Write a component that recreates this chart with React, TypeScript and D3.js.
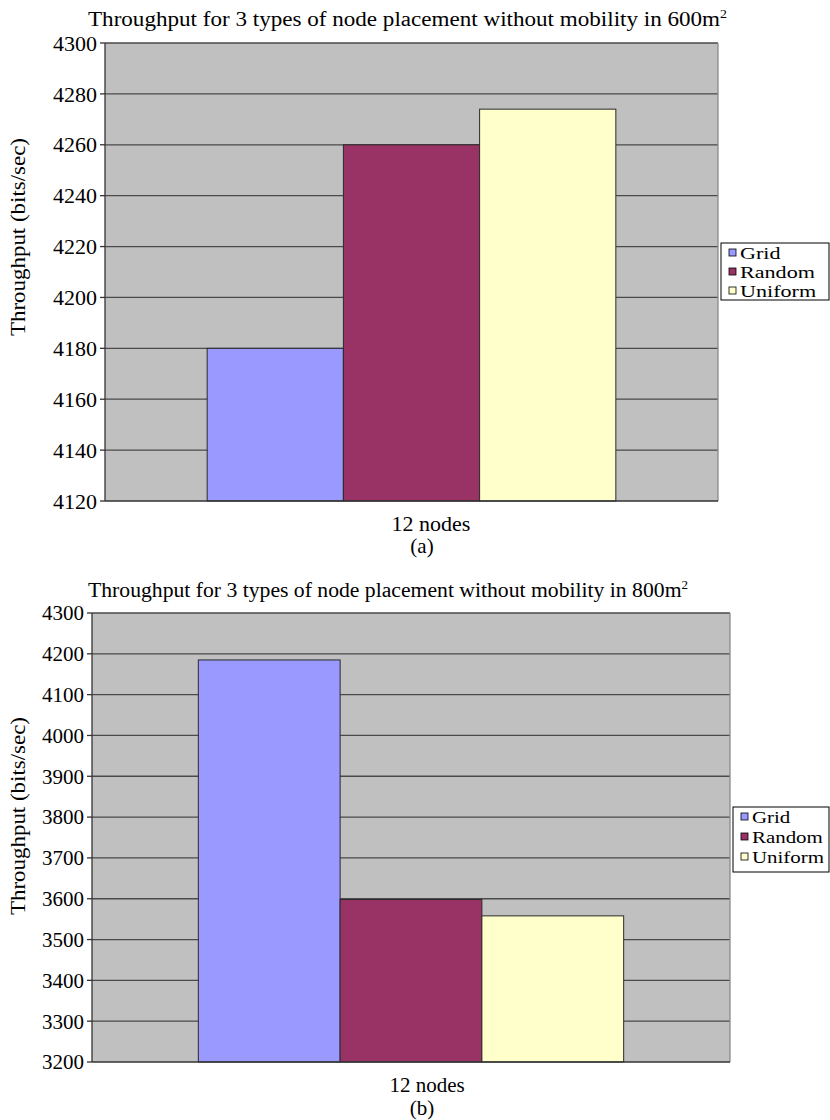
import React from "react";
import * as d3 from "d3";

// Placement types shown in both panels
const placements = ["Grid", "Random", "Uniform"];
const placementColors = ["#9999FF", "#993366", "#FFFFCC"];

// Panel (a): 600 m² area
const throughput600 = [4180, 4260, 4274];
const ticks600 = [4120, 4140, 4160, 4180, 4200, 4220, 4240, 4260, 4280, 4300];

// Panel (b): 800 m² area
const throughput800 = [4185, 3598, 3558];
const ticks800 = [3200, 3300, 3400, 3500, 3600, 3700, 3800, 3900, 4000, 4100, 4200, 4300];

const categoryLabel = "12 nodes";
const yTitle = "Throughput (bits/sec)";

const FONT = "Liberation Serif, DejaVu Serif, serif";
// em widths of the legend labels in a Times-metric face
const legendEm = [1.833, 3.389, 3.444];

type PanelProps = {
  title: string;
  titleX: number;
  titleY: number;
  titleWidth: number;
  values: number[];
  ticks: number[];
  left: number;
  right: number;
  top: number;
  bottom: number;
  yTitleX: number;
  yTitleCenter: number;
  tickFont: number;
  xLabelX: number;
  xLabelY: number;
  xLabelFont: number;
  caption: string;
  captionX: number;
  captionY: number;
  legendX: number;
  legendY: number;
  legendW: number;
  legendH: number;
  legendEmPx: number;
  legendRow: number;
};

function Panel(p: PanelProps) {
  const y = d3
    .scaleLinear()
    .domain([p.ticks[0], p.ticks[p.ticks.length - 1]])
    .range([p.bottom, p.top]);
  const x = d3
    .scaleBand<string>()
    .domain(placements)
    .range([p.left, p.right])
    .paddingInner(0)
    .paddingOuter(0.75);

  const txt = { fontFamily: FONT };

  return (
    <g>
      <text
        x={p.titleX}
        y={p.titleY}
        style={txt}
        fontSize={20}
        textLength={p.titleWidth}
        lengthAdjust="spacingAndGlyphs"
        fill="#000"
      >
        {p.title.replace(/m2$/, "m")}
        <tspan fontSize={12} dy={-8}>2</tspan>
      </text>

      {/* plot area */}
      <rect x={p.left} y={p.top} width={p.right - p.left} height={p.bottom - p.top} fill="#C0C0C0" />

      {/* gridlines */}
      {p.ticks.slice(1).map((t) => (
        <line
          key={"g" + t}
          x1={p.left}
          x2={p.right}
          y1={y(t)}
          y2={y(t)}
          stroke="#4a4a4a"
          strokeWidth={1.3}
        />
      ))}
      <line x1={p.right} x2={p.right} y1={p.top} y2={p.bottom} stroke="#8a8a8a" strokeWidth={1.3} />

      {/* bars */}
      {placements.map((name, i) => (
        <rect
          key={name}
          x={x(name)}
          y={y(p.values[i])}
          width={x.bandwidth()}
          height={p.bottom - y(p.values[i])}
          fill={placementColors[i]}
          stroke="#2a2a2a"
          strokeWidth={1}
        />
      ))}

      {/* axes */}
      <line x1={p.left} x2={p.left} y1={p.top} y2={p.bottom} stroke="#333" strokeWidth={1.3} />
      <line x1={p.left} x2={p.right} y1={p.bottom} y2={p.bottom} stroke="#333" strokeWidth={1.3} />
      {p.ticks.map((t) => (
        <g key={"t" + t}>
          <line x1={p.left - 5} x2={p.left} y1={y(t)} y2={y(t)} stroke="#333" strokeWidth={1.3} />
          <text
            x={p.left - 8}
            y={y(t)}
            dy="0.35em"
            textAnchor="end"
            style={txt}
            fontSize={p.tickFont}
            fill="#000"
          >
            {t}
          </text>
        </g>
      ))}

      <text
        transform={`translate(${p.yTitleX},${p.yTitleCenter}) rotate(-90)`}
        textAnchor="middle"
        style={txt}
        fontSize={21}
        textLength={198}
        lengthAdjust="spacingAndGlyphs"
        fill="#000"
      >
        {yTitle}
      </text>

      <text x={p.xLabelX} y={p.xLabelY} textAnchor="middle" style={txt} fontSize={p.xLabelFont} fill="#000">
        {categoryLabel}
      </text>
      <text x={p.captionX} y={p.captionY} textAnchor="middle" style={txt} fontSize={21} fill="#000">
        {p.caption}
      </text>

      {/* legend */}
      <rect x={p.legendX} y={p.legendY} width={p.legendW} height={p.legendH} fill="#fff" stroke="#000" strokeWidth={1} />
      {placements.map((name, i) => {
        const cy = p.legendY + 10 + i * p.legendRow;
        return (
          <g key={"l" + name}>
            <rect x={p.legendX + 8} y={cy - 4} width={7} height={7} fill={placementColors[i]} stroke="#000" strokeWidth={0.8} />
            <text
              x={p.legendX + 19}
              y={cy}
              dy="0.35em"
              style={txt}
              fontSize={16.5}
              textLength={legendEm[i] * p.legendEmPx}
              lengthAdjust="spacingAndGlyphs"
              fill="#000"
            >
              {name}
            </text>
          </g>
        );
      })}
    </g>
  );
}

export default function App() {
  return (
    <svg width={830} height={1120} style={{ position: "absolute", left: 0, top: 0, background: "#fff" }}>
      <Panel
        title="Throughput for 3 types of node placement without mobility in 600m2"
        titleX={88}
        titleY={26}
        titleWidth={639}
        values={throughput600}
        ticks={ticks600}
        left={105}
        right={718}
        top={43}
        bottom={501}
        yTitleX={25}
        yTitleCenter={237}
        tickFont={22}
        xLabelX={431}
        xLabelY={531}
        xLabelFont={22}
        caption="(a)"
        captionX={422}
        captionY={553}
        legendX={721}
        legendY={243}
        legendW={108}
        legendH={57}
        legendEmPx={22.1}
        legendRow={19}
      />
      <Panel
        title="Throughput for 3 types of node placement without mobility in 800m2"
        titleX={88}
        titleY={597}
        titleWidth={600}
        values={throughput800}
        ticks={ticks800}
        left={92}
        right={730}
        top={613}
        bottom={1062}
        yTitleX={25}
        yTitleCenter={816}
        tickFont={21}
        xLabelX={427}
        xLabelY={1092}
        xLabelFont={21}
        caption="(b)"
        captionX={422}
        captionY={1115}
        legendX={733}
        legendY={807}
        legendW={96}
        legendH={65}
        legendEmPx={20.9}
        legendRow={20}
      />
    </svg>
  );
}
